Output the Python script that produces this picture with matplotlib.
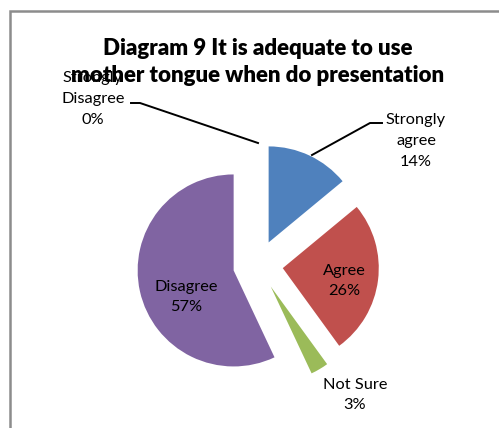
import matplotlib.pyplot as plt
from matplotlib.patches import Rectangle

labels = ['Strongly\nagree', 'Agree', 'Not Sure', 'Disagree', 'Strongly\nDisagree']
shares = [14, 26, 3, 57, 0]
colors = ['#4F81BD', '#C0504D', '#9BBB59', '#8064A2', '#4BACC6']
title = 'Diagram 9 It is adequate to use\nmother tongue when do presentation'

plt.rcParams['font.family'] = ['Lato', 'DejaVu Sans']

W, H = 499, 428
R = 96.0          # pixels per pie radius
cx, cy = 258, 265  # pie centre in pixels


def px(x, y):
    return ((x - cx) / R, (cy - y) / R)


fig = plt.figure(figsize=(W / 100, H / 100), dpi=100)
ax = fig.add_axes([0, 0, 1, 1])
ax.pie(shares, colors=colors, startangle=90, counterclock=False,
       explode=[0.26] * len(shares), radius=1,
       wedgeprops=dict(linewidth=0))
ax.set_xlim(-cx / R, (W - cx) / R)
ax.set_ylim(-(H - cy) / R, cy / R)
ax.set_aspect('auto')
ax.axis('off')

# chart frame (right and bottom edges fall outside the crop)
fig.add_artist(Rectangle((9.5 / W, -0.1), 1.2, (H - 10.5) / H + 0.1,
                         transform=fig.transFigure, fill=False,
                         ec='#8c8c8c', lw=1.8))

lab = dict(ha='center', va='center', fontsize=11.8, linespacing=1.62)
ax.text(*px(416, 141), f'{labels[0]}\n{shares[0]}%', **lab)
ax.text(*px(344, 281), f'{labels[1]}\n{shares[1]}%', **lab)
ax.text(*px(355, 395), f'{labels[2]}\n{shares[2]}%', **lab)
ax.text(*px(186, 297), f'{labels[3]}\n{shares[3]}%', **lab)
ax.text(*px(93, 99), f'{labels[4]}\n{shares[4]}%', **lab)

ax.text(*px(258, 62), title, ha='center', va='center', fontsize=16,
        fontweight='heavy', linespacing=1.32, zorder=5)

# leader lines
for pts in ([(312, 155), (370, 123), (382, 123)],
            [(131, 103), (140, 103), (258, 143)]):
    xs, ys = zip(*[px(x, y) for x, y in pts])
    ax.plot(xs, ys, color='black', lw=1.4)

fig.savefig('out.png', dpi=100)
